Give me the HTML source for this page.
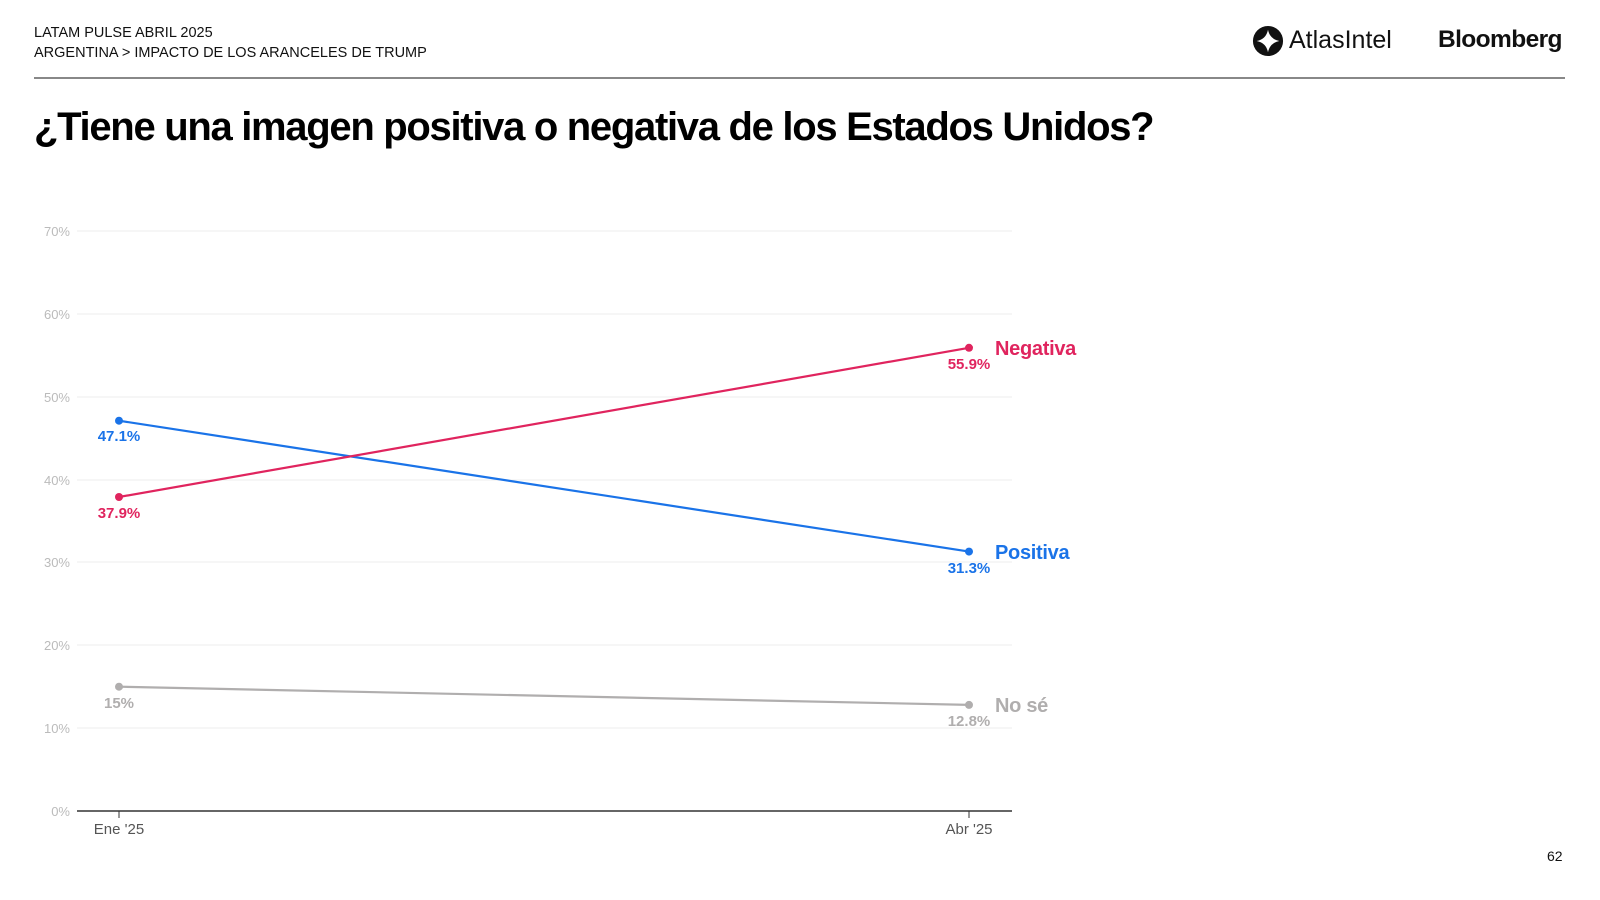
<!DOCTYPE html>
<html><head><meta charset="utf-8"><style>
body{margin:0;width:1600px;height:900px;background:#fff;position:relative;font-family:"Liberation Sans",sans-serif;overflow:hidden}
.h{position:absolute;left:34px;font-size:14.5px;color:#111}
</style></head><body>
<div class="h" style="top:25px">LATAM PULSE ABRIL 2025</div>
<div class="h" style="top:45px">ARGENTINA &gt; IMPACTO DE LOS ARANCELES DE TRUMP</div>
<div style="position:absolute;left:34px;top:77px;width:1531px;height:2px;background:#888"></div>
<div style="position:absolute;left:34px;top:105px;font-size:40px;font-weight:bold;letter-spacing:-1.3px;color:#000">¿Tiene una imagen positiva o negativa de los Estados Unidos?</div>
<svg style="position:absolute;left:1252px;top:25px" width="32" height="32" viewBox="0 0 34 34"><circle cx="17" cy="17" r="16" fill="#111"/><path d="M17 5 Q19 15 29 17 Q19 19 17 29 Q15 19 5 17 Q15 15 17 5Z" fill="#fff"/></svg>
<div style="position:absolute;left:1289px;top:26px;font-size:25px;color:#111">Atlas<span style="font-weight:300">Intel</span></div>
<div style="position:absolute;left:1438px;top:26px;font-size:24.5px;font-weight:bold;letter-spacing:-0.6px;color:#111">Bloomberg</div>
<div style="position:absolute;left:1547px;top:848px;font-size:14px;color:#111">62</div>
<svg style="position:absolute;left:0;top:0" width="1600" height="900">
<g stroke="#ececec" stroke-width="1">
<line x1="77" x2="1012" y1="231" y2="231"/><line x1="77" x2="1012" y1="314" y2="314"/><line x1="77" x2="1012" y1="397" y2="397"/><line x1="77" x2="1012" y1="480" y2="480"/><line x1="77" x2="1012" y1="562" y2="562"/><line x1="77" x2="1012" y1="645" y2="645"/><line x1="77" x2="1012" y1="728" y2="728"/>
</g>
<line x1="77" x2="1012" y1="811" y2="811" stroke="#333" stroke-width="1.5"/>
<line x1="119" x2="119" y1="811" y2="818" stroke="#333"/><line x1="969" x2="969" y1="811" y2="818" stroke="#333"/>
<g font-size="13" fill="#bbb" text-anchor="end">
<text x="70" y="236">70%</text><text x="70" y="319">60%</text><text x="70" y="402">50%</text><text x="70" y="485">40%</text><text x="70" y="567">30%</text><text x="70" y="650">20%</text><text x="70" y="733">10%</text><text x="70" y="816">0%</text>
</g>
<g font-size="15" fill="#555" text-anchor="middle"><text x="119" y="834">Ene '25</text><text x="969" y="834">Abr '25</text></g>
<line x1="119" y1="420.7" x2="969" y2="551.6" stroke="#1a73e8" stroke-width="2.2"/>
<line x1="119" y1="497" x2="969" y2="347.8" stroke="#e0245e" stroke-width="2.2"/>
<line x1="119" y1="686.7" x2="969" y2="704.9" stroke="#b0aeae" stroke-width="2.2"/>
<circle cx="119" cy="420.7" r="4" fill="#1a73e8"/><circle cx="969" cy="551.6" r="4" fill="#1a73e8"/>
<circle cx="119" cy="497" r="4" fill="#e0245e"/><circle cx="969" cy="347.8" r="4" fill="#e0245e"/>
<circle cx="119" cy="686.7" r="4" fill="#b0aeae"/><circle cx="969" cy="704.9" r="4" fill="#b0aeae"/>
<g font-size="15" font-weight="bold" text-anchor="middle">
<text x="119" y="441" fill="#1a73e8">47.1%</text><text x="969" y="573" fill="#1a73e8">31.3%</text>
<text x="119" y="518" fill="#e0245e">37.9%</text><text x="969" y="369" fill="#e0245e">55.9%</text>
<text x="119" y="708" fill="#b0aeae">15%</text><text x="969" y="726" fill="#b0aeae">12.8%</text>
</g>
<g font-size="20" font-weight="bold" letter-spacing="-0.3">
<text x="995" y="355" fill="#e0245e">Negativa</text>
<text x="995" y="559" fill="#1a73e8">Positiva</text>
<text x="995" y="712" fill="#b0aeae">No sé</text>
</g>
</svg>
</body></html>
